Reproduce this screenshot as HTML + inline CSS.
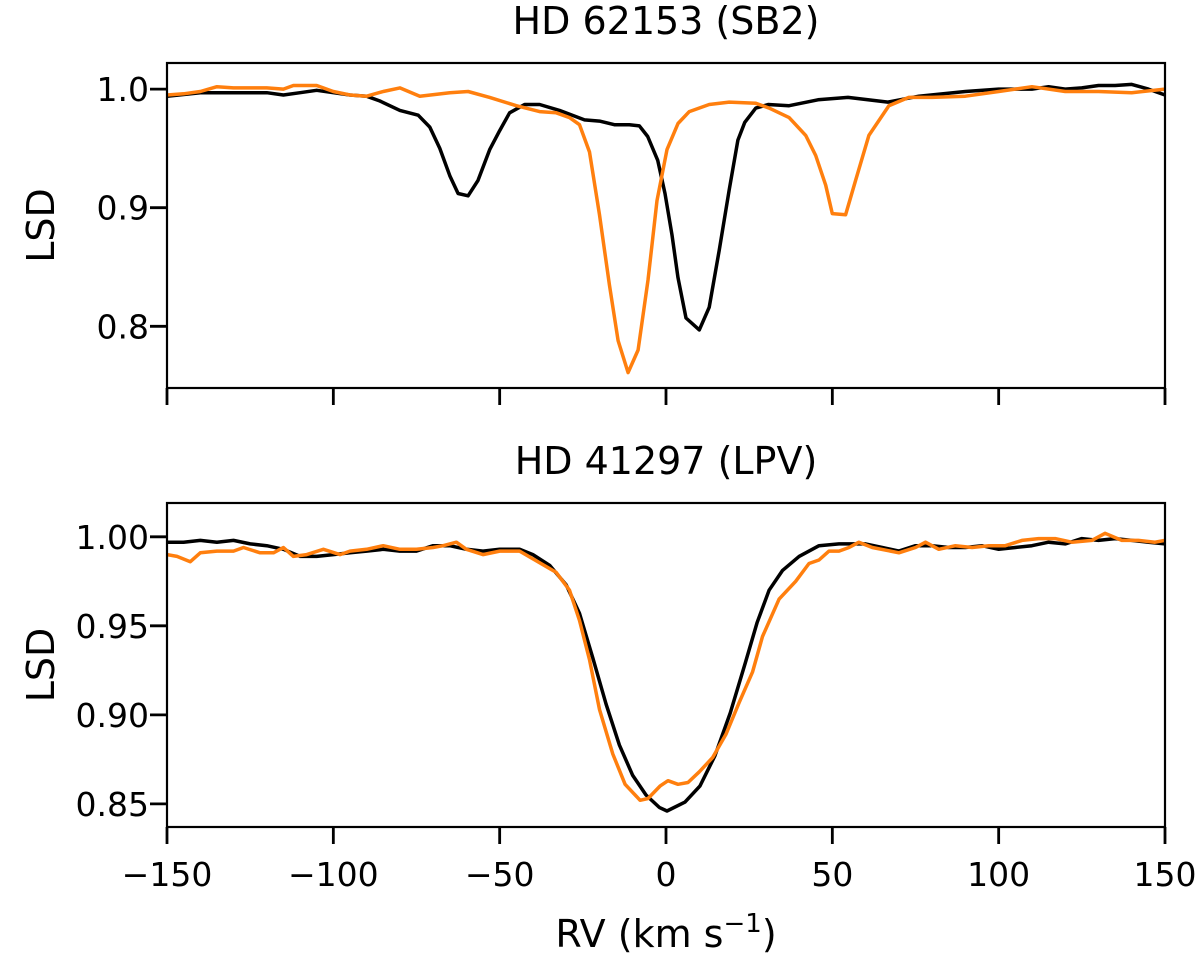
<!DOCTYPE html>
<html><head><meta charset="utf-8">
<style>
html,body{margin:0;padding:0;background:#fff;}
svg{display:block;font-family:"DejaVu Sans","Liberation Sans",sans-serif;}
</style></head>
<body>
<svg id="chart" width="1200" height="957" viewBox="0 0 1200 957" xmlns="http://www.w3.org/2000/svg"></svg>
<script>
// ---- data ----
const xTicks = [-150,-100,-50,0,50,100,150];
const xTickLabels = ["\u2212150","\u2212100","\u221250","0","50","100","150"];
const topYTicks = [0.8,0.9,1.0];
const topYTickLabels = ["0.8","0.9","1.0"];
const botYTicks = [0.85,0.90,0.95,1.00];
const botYTickLabels = ["0.85","0.90","0.95","1.00"];

const topBlackV = [-150,-140,-130,-120,-115,-110,-105,-100,-95,-90,-86,-80,-74.5,-71,-68,-65,-62.5,-59.5,-56.5,-53,-50,-47,-42.5,-38,-32,-24.5,-20,-15.5,-11,-8,-5.5,-2.5,-0.3,1.8,3.6,6,10,13,16,19,21.6,23.7,27,30.7,37,45.7,54.7,66.7,76,90,100,110,115,120,125,130,135,140,145,150];
const topBlackY = [0.994,0.997,0.997,0.997,0.995,0.997,0.999,0.997,0.995,0.994,0.990,0.982,0.978,0.968,0.950,0.927,0.912,0.910,0.923,0.949,0.965,0.980,0.987,0.987,0.982,0.974,0.973,0.970,0.970,0.969,0.960,0.940,0.912,0.877,0.841,0.807,0.797,0.816,0.864,0.915,0.957,0.972,0.984,0.987,0.986,0.991,0.993,0.989,0.994,0.998,1.000,1.000,1.002,1.000,1.001,1.003,1.003,1.004,1.000,0.995];
const topOrangeV = [-150,-145,-140,-135,-130,-125,-120,-115,-112,-105,-100,-95,-90,-85,-80,-74,-65,-59.5,-53,-45,-38,-33,-29,-26,-23,-20,-17,-14.4,-11.4,-8.4,-5.4,-2.7,0.3,3.6,7,13,19,27,31,37,42,45,48,50,54,57,61,67,73,80,90,100,110,120,130,140,150];
const topOrangeY = [0.995,0.996,0.998,1.002,1.001,1.001,1.001,1.000,1.003,1.003,0.998,0.995,0.994,0.998,1.001,0.994,0.997,0.998,0.993,0.986,0.981,0.980,0.976,0.970,0.947,0.894,0.835,0.788,0.761,0.780,0.839,0.906,0.949,0.971,0.981,0.987,0.989,0.988,0.984,0.976,0.961,0.944,0.919,0.895,0.894,0.923,0.961,0.986,0.993,0.993,0.994,0.998,1.002,0.998,0.998,0.997,1.000];

const botBlackV = [-150,-145,-140,-135,-130,-125,-120,-115,-110,-105,-100,-95,-90,-85,-80,-75,-70,-65,-60,-55,-50,-44,-40,-35,-30,-26,-22,-18,-14,-10,-6,-2,0.3,5.7,10.2,14.7,19.3,23.8,27.4,31,35,40,46,52,60,65,70,75,80,85,90,95,100,105,110,115,120,125,130,135,140,145,150];
const botBlackY = [0.997,0.997,0.998,0.997,0.998,0.996,0.995,0.993,0.989,0.989,0.990,0.991,0.992,0.993,0.992,0.992,0.995,0.995,0.993,0.992,0.993,0.993,0.990,0.984,0.973,0.957,0.932,0.906,0.883,0.866,0.855,0.848,0.846,0.851,0.860,0.877,0.901,0.929,0.952,0.970,0.981,0.989,0.995,0.996,0.996,0.994,0.992,0.995,0.995,0.994,0.994,0.995,0.993,0.994,0.995,0.997,0.996,0.999,0.998,0.999,0.998,0.997,0.996];
const botOrangeV = [-150,-147,-143,-140,-135,-130,-127,-122,-118,-115,-112,-108,-103,-98,-95,-90,-85,-80,-75,-70,-67,-63,-60,-55,-50,-44,-33,-29,-26,-23,-20,-16,-12.3,-7.8,-5.4,-1.8,0.6,3.6,6.6,10,14,18,22,26,29,34,39,43,46,49,52,55,58,62,70,75,78,82,87,92,97,102,107,112,117,122,128,132,137,142,147,150];
const botOrangeY = [0.990,0.989,0.986,0.991,0.992,0.992,0.994,0.991,0.991,0.994,0.989,0.990,0.993,0.990,0.992,0.993,0.995,0.993,0.993,0.994,0.995,0.997,0.993,0.990,0.992,0.992,0.980,0.970,0.953,0.931,0.903,0.878,0.861,0.852,0.853,0.860,0.863,0.861,0.862,0.868,0.876,0.889,0.907,0.924,0.944,0.965,0.975,0.985,0.987,0.992,0.992,0.994,0.997,0.994,0.991,0.994,0.997,0.993,0.995,0.994,0.995,0.995,0.998,0.999,0.999,0.997,0.998,1.002,0.998,0.998,0.997,0.998];

// ---- layout ----
const NS = "http://www.w3.org/2000/svg";
const svg = document.getElementById('chart');
const X0 = 167, X1 = 1165;
const xScale = v => X0 + (v + 150) / 300 * (X1 - X0);
const panels = [
  {name:'top', top:63, bottom:388, ymin:0.748, ymax:1.022, yt:topYTicks, ytl:topYTickLabels, title:'HD 62153 (SB2)', titleY:34, showX:false,
   series:[[topBlackV,topBlackY,'#000000','black'],[topOrangeV,topOrangeY,'#ff7f0e','orange']]},
  {name:'bottom', top:503, bottom:827, ymin:0.837, ymax:1.019, yt:botYTicks, ytl:botYTickLabels, title:'HD 41297 (LPV)', titleY:474, showX:true,
   series:[[botBlackV,botBlackY,'#000000','black'],[botOrangeV,botOrangeY,'#ff7f0e','orange']]}
];
function mk(tag, attrs, parent){const e=document.createElementNS(NS,tag);for(const k in attrs)e.setAttribute(k,attrs[k]);(parent||svg).appendChild(e);return e;}

panels.forEach(p=>{
  const ys = v => p.bottom - (v - p.ymin)/(p.ymax - p.ymin)*(p.bottom - p.top);
  const g = mk('g',{});
  
  
  const clipId = 'clip-' + p.name;
  const cp = mk('clipPath',{id:clipId},g);
  mk('rect',{x:X0,y:p.top,width:X1-X0,height:p.bottom-p.top},cp);
  p.series.forEach(s=>{
    const [vx,vy,col,nm]=s;
    const d = vx.map((v,i)=>(i?'L':'M')+xScale(v).toFixed(1)+','+ys(vy[i]).toFixed(1)).join(' ');
    const path = mk('path',{d:d,fill:'none',stroke:col,'stroke-width':3.5,'stroke-linejoin':'round','clip-path':'url(#'+clipId+')'},g);
    
    
  });
  const frame = mk('rect',{x:X0,y:p.top,width:X1-X0,height:p.bottom-p.top,fill:'none',stroke:'#000','stroke-width':2.2},g);
  
  
  xTicks.forEach((t,i)=>{
    const x = xScale(t);
    mk('line',{x1:x,x2:x,y1:p.bottom,y2:p.bottom+17,stroke:'#000','stroke-width':2.8},g);
    if(p.showX){
      const tx = mk('text',{x:x,y:p.bottom+59,'text-anchor':'middle','font-size':33,fill:'#000'},g);
      tx.textContent = xTickLabels[i];
      
      
    }
  });
  p.yt.forEach((t,i)=>{
    const y = ys(t);
    mk('line',{x1:X0-17,x2:X0,y1:y,y2:y,stroke:'#000','stroke-width':2.8},g);
    const ty = mk('text',{x:X0-18,y:y+12,'text-anchor':'end','font-size':33,fill:'#000'},g);
    ty.textContent = p.ytl[i];
    
    
  });
  const tt = mk('text',{x:(X0+X1)/2,y:p.titleY,'text-anchor':'middle','font-size':38,fill:'#000'},g);
  tt.textContent = p.title;
  
  
  const yl = mk('text',{x:0,y:0,'text-anchor':'middle','font-size':38,fill:'#000',transform:'translate(54,'+((p.top+p.bottom)/2)+') rotate(-90)'},g);
  yl.textContent = 'LSD';
  
  
});
const xl = mk('text',{x:666,y:947,'text-anchor':'middle','font-size':38,fill:'#000'});
xl.innerHTML = 'RV (km s<tspan dy="-15" font-size="26">\u22121</tspan><tspan dy="15">)</tspan>';


</script>
</body></html>
